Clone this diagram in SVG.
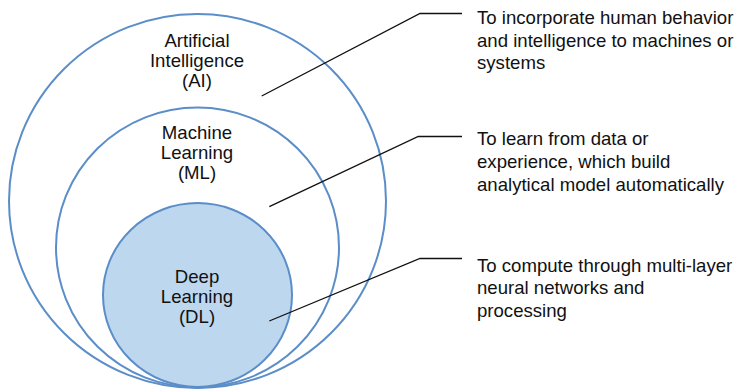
<svg xmlns="http://www.w3.org/2000/svg" width="742" height="389" viewBox="0 0 742 389">
<style>
.c{stroke:#5b8ec9;stroke-width:2;fill:none}
.t{font-family:"Liberation Sans",Arial,sans-serif;font-size:18.6px;fill:#111}
.m{text-anchor:middle}
.l{stroke:#111;stroke-width:1.3;fill:none}
</style>
<rect width="742" height="389" fill="#fff"/>
<g id="ai">
<ellipse class="c" cx="197.5" cy="201" rx="188.5" ry="187"/>
<text class="t m" x="197" y="47">Artificial</text>
<text class="t m" x="197" y="67">Intelligence</text>
<text class="t m" x="197" y="87">(AI)</text>
</g>
<g id="ml">
<ellipse class="c" cx="197.5" cy="247.5" rx="141.5" ry="140"/>
<text class="t m" x="197" y="138.5">Machine</text>
<text class="t m" x="197" y="158.5">Learning</text>
<text class="t m" x="197" y="178.5">(ML)</text>
</g>
<g id="dl">
<ellipse class="c" cx="197.5" cy="295" rx="94.5" ry="92" fill="#bdd7ee" style="fill:#bdd7ee"/>
<text class="t m" x="197" y="282.5">Deep</text>
<text class="t m" x="197" y="302.5">Learning</text>
<text class="t m" x="197" y="322.5">(DL)</text>
</g>
<g id="desc-ai">
<text class="t" x="477" y="24">To incorporate human behavior</text>
<text class="t" x="477" y="46.5">and intelligence to machines or</text>
<text class="t" x="477" y="69">systems</text>
</g>
<g id="desc-ml">
<text class="t" x="477" y="145">To learn from data or</text>
<text class="t" x="477" y="168">experience, which build</text>
<text class="t" x="477" y="191">analytical model automatically</text>
</g>
<g id="desc-dl">
<text class="t" x="477" y="271.7">To compute through multi-layer</text>
<text class="t" x="477" y="294.2">neural networks and</text>
<text class="t" x="477" y="316.7">processing</text>
</g>
<g id="connectors">
<polyline class="l" points="261.7,96 420,13.5 462,13.5"/>
<polyline class="l" points="269.3,206.7 418.3,136.5 462,136.5"/>
<polyline class="l" points="269.3,321 420,258.5 462,258.5"/>
</g>
</svg>
